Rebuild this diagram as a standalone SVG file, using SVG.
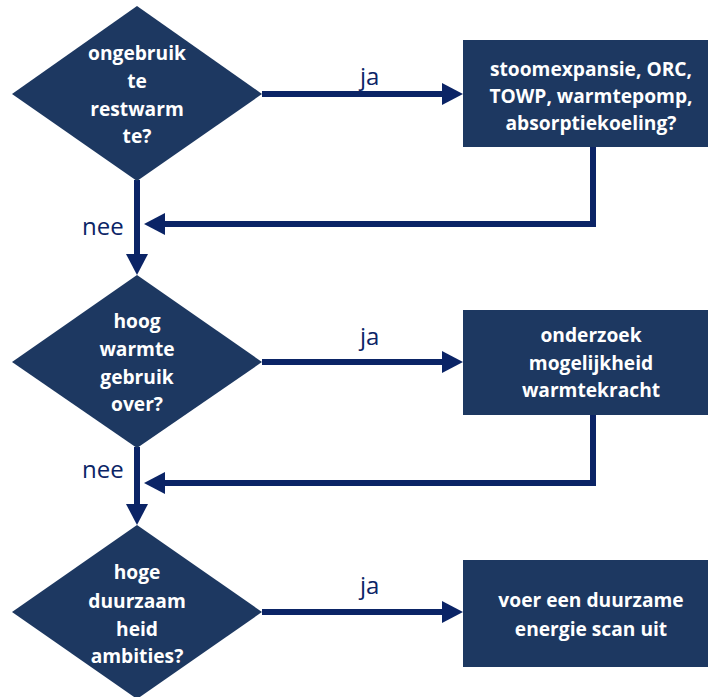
<svg xmlns="http://www.w3.org/2000/svg" width="710" height="697" viewBox="0 0 710 697">
  <style>
    .node { fill: #1d3861; }
    .ntext { font-family: "Open Sans", "Liberation Sans", sans-serif; font-weight: bold; font-size: 19.2px; fill: #ffffff; text-anchor: middle; }
    .conn { fill: none; stroke: #0b2466; stroke-width: 6; }
    .lbl { font-family: "Open Sans", "Liberation Sans", sans-serif; font-size: 24px; fill: #0b2466; }
  </style>
  <defs>
    <marker id="arrow" markerUnits="userSpaceOnUse" markerWidth="22" markerHeight="24" refX="1" refY="11" orient="auto">
      <path d="M0,0 L21,11 L0,22 Z" fill="#0b2466"/>
    </marker>
  </defs>

  <!-- connectors -->
  <g id="connectors">
    <path class="conn" d="M262,94 H443" marker-end="url(#arrow)"/>
    <path class="conn" d="M593,147 V224 H164" marker-end="url(#arrow)"/>
    <path class="conn" d="M137,180 V255" marker-end="url(#arrow)"/>
    <path class="conn" d="M262,362 H443" marker-end="url(#arrow)"/>
    <path class="conn" d="M593,415 V483 H164" marker-end="url(#arrow)"/>
    <path class="conn" d="M137,447 V505" marker-end="url(#arrow)"/>
    <path class="conn" d="M262,612 H443" marker-end="url(#arrow)"/>
    <text class="lbl" x="360" y="85">ja</text>
    <text class="lbl" x="360" y="345">ja</text>
    <text class="lbl" x="360" y="594">ja</text>
    <text class="lbl" x="82" y="235">nee</text>
    <text class="lbl" x="82" y="478">nee</text>
  </g>

  <!-- decision 1 -->
  <g id="d1">
    <polygon class="node" points="137,6 262,94 137,181 12,94"/>
    <text class="ntext" x="137" y="60">ongebruik</text>
    <text class="ntext" x="137" y="88">te</text>
    <text class="ntext" x="137" y="116">restwarm</text>
    <text class="ntext" x="137" y="143">te?</text>
  </g>

  <!-- action 1 -->
  <g id="a1">
    <rect class="node" x="463" y="40" width="245" height="107"/>
    <text class="ntext" x="591" y="76">stoomexpansie, ORC,</text>
    <text class="ntext" x="591" y="103">TOWP, warmtepomp,</text>
    <text class="ntext" x="591" y="130">absorptiekoeling?</text>
  </g>

  <!-- decision 2 -->
  <g id="d2">
    <polygon class="node" points="137,275 262,362 137,448 12,362"/>
    <text class="ntext" x="137" y="328">hoog</text>
    <text class="ntext" x="137" y="356">warmte</text>
    <text class="ntext" x="137" y="384">gebruik</text>
    <text class="ntext" x="137" y="411">over?</text>
  </g>

  <!-- action 2 -->
  <g id="a2">
    <rect class="node" x="463" y="310" width="245" height="105"/>
    <text class="ntext" x="591" y="342">onderzoek</text>
    <text class="ntext" x="591" y="370">mogelijkheid</text>
    <text class="ntext" x="591" y="397">warmtekracht</text>
  </g>

  <!-- decision 3 -->
  <g id="d3">
    <polygon class="node" points="137,525 262,612 137,699 12,612"/>
    <text class="ntext" x="137" y="579">hoge</text>
    <text class="ntext" x="137" y="608">duurzaam</text>
    <text class="ntext" x="137" y="636">heid</text>
    <text class="ntext" x="137" y="663">ambities?</text>
  </g>

  <!-- action 3 -->
  <g id="a3">
    <rect class="node" x="463" y="560" width="245" height="107"/>
    <text class="ntext" x="591" y="607">voer een duurzame</text>
    <text class="ntext" x="591" y="636">energie scan uit</text>
  </g>
</svg>
